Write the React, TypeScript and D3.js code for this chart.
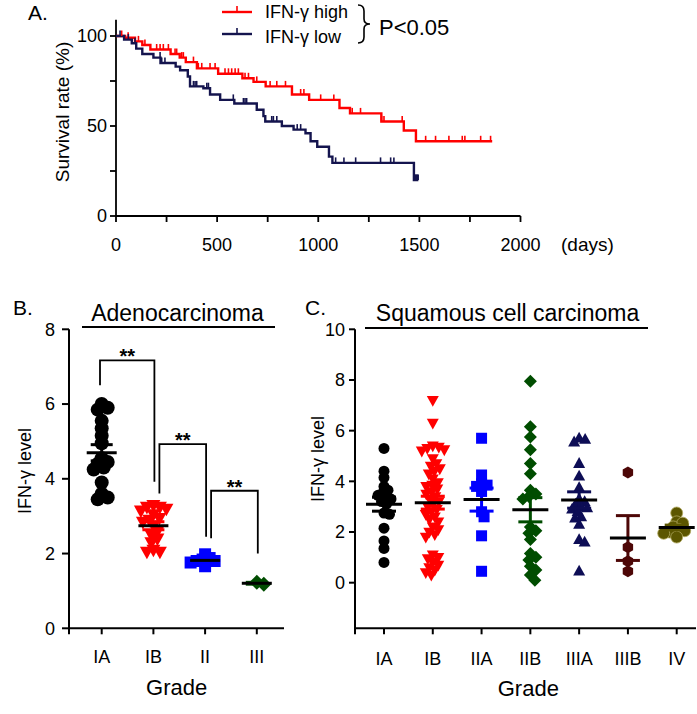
import React from 'react';
import * as d3 from 'd3';

const FONT = "'Liberation Sans', Arial, Helvetica, sans-serif";

// ---------- Panel A: survival ----------
const highDays = [0, 45, 94, 130, 170, 270, 315, 345, 400, 505, 625, 680, 740, 870, 955, 1105, 1157, 1312, 1423, 1483];
const highSurv = [100, 99, 97, 95, 92.5, 90, 88, 85.5, 82, 79, 76.5, 74.5, 72, 67.5, 64.5, 60, 57, 52.5, 47.5, 41.5];
const highEnd = 1860;
const highCensor = [28, 60, 111, 143, 201, 218, 234, 259, 292, 300, 325, 333, 383, 407, 424, 465, 490, 539, 556, 572, 589, 605, 638, 655, 696, 762, 795, 838, 913, 929, 1012, 1077, 1168, 1209, 1313, 1325, 1415, 1531, 1580, 1646, 1712, 1725, 1803, 1852];

const lowDays = [0, 40, 78, 100, 130, 185, 220, 295, 317, 355, 366, 432, 465, 515, 585, 696, 729, 738, 820, 878, 937, 962, 995, 1053, 1070, 1473];
const lowSurv = [100, 98, 96, 93, 90, 88, 85, 83, 81, 77.5, 72, 71, 67.5, 64.5, 62.5, 59, 55.5, 52.5, 50, 48, 46, 41.5, 38.5, 33, 29.5, 20];
const lowEnd = 1495;
const lowCensor = [20, 61, 94, 218, 226, 242, 383, 391, 399, 449, 457, 580, 630, 638, 646, 770, 778, 795, 896, 913, 1086, 1127, 1185, 1308, 1358, 1374, 1478, 1482, 1486, 1490, 1494];

const dayTicks = [0, 500, 1000, 1500, 2000];
const dayMinorTicks = [250, 750, 1250, 1750];
const survTicks = [0, 50, 100];
const survMinorTicks = [25, 75];
const legendLabels = ['IFN-γ high', 'IFN-γ low'];

// ---------- Panel B: adenocarcinoma ----------
const adenoGrades = ['IA', 'IB', 'II', 'III'];
const adenoIA = [6.0, 5.9, 5.85, 5.55, 5.35, 5.15, 4.95, 4.55, 4.45, 4.4, 4.3, 4.25, 3.9, 3.6, 3.5, 3.45];
const adenoIB = [3.3, 3.25, 3.25, 3.2, 3.15, 3.05, 2.95, 2.9, 2.85, 2.75, 2.6, 2.5, 2.4, 2.3, 2.1, 2.05, 2.05];
const adenoII = [1.98, 1.88, 1.84, 1.8, 1.8, 1.76, 1.66];
const adenoIII = [1.23, 1.18];
const adenoTicks = [0, 2, 4, 6, 8];
const bracketTop = [7.17, 4.93, 3.68];
const bracketLeftEnd = [6.5, 3.61, 2.41];
const bracketRightEnd = [3.92, 2.45, 2.0];

// ---------- Panel C: squamous ----------
const squamGrades = ['IA', 'IB', 'IIA', 'IIB', 'IIIA', 'IIIB', 'IV'];
const squamIA = [5.3, 4.4, 4.15, 3.8, 3.65, 3.55, 3.45, 3.35, 3.3, 3.2, 3.1, 2.75, 2.7, 2.15, 1.65, 1.35, 0.8];
const squamIB = [7.2, 6.3, 5.4, 5.35, 5.3, 5.25, 5.2, 4.9, 4.7, 4.6, 4.5, 4.4, 4.3, 4.1, 3.95, 3.85, 3.8, 3.7, 3.6, 3.5, 3.4, 3.3, 3.2, 3.1, 3.0, 2.9, 2.8, 2.7, 2.6, 2.5, 2.4, 2.2, 2.1, 2.0, 1.9, 1.8, 1.1, 1.0, 0.95, 0.8, 0.7, 0.6, 0.5, 0.4, 0.3];
const squamIIA = [5.7, 4.25, 3.9, 3.85, 3.8, 3.6, 2.8, 2.6, 1.85, 0.45];
const squamIIB = [7.95, 6.15, 5.75, 5.25, 4.7, 4.3, 3.65, 3.5, 3.4, 3.3, 2.2, 2.05, 1.95, 1.7, 1.15, 1.0, 0.9, 0.65, 0.5, 0.3, 0.1];
const squamIIIA = [5.7, 5.65, 5.55, 4.7, 4.2, 3.75, 3.3, 3.2, 3.1, 3.0, 2.95, 2.9, 2.6, 2.55, 2.8, 2.3, 1.7, 1.6, 0.45];
const squamIIIB = [4.35, 1.4, 0.85, 0.45];
const squamIV = [2.75, 2.4, 2.35, 2.2, 2.1, 2.05, 2.0, 1.95, 1.8];
const squamTicks = [0, 2, 4, 6, 8, 10];

// ---------- helpers ----------
function survAt(days: number[], surv: number[], t: number) {
  let s = surv[0];
  for (let i = 0; i < days.length; i++) if (days[i] <= t) s = surv[i];
  return s;
}

function shapePath(shape: string, size: number) {
  const h = size / 2;
  switch (shape) {
    case 'circle':
      return `M${-h},0a${h},${h} 0 1,0 ${size},0a${h},${h} 0 1,0 ${-size},0Z`;
    case 'triUp': {
      const H = size * 0.9;
      return `M0,${-H * 0.6}L${h},${H * 0.4}L${-h},${H * 0.4}Z`;
    }
    case 'triDown': {
      const H = size * 0.9;
      return `M0,${H * 0.6}L${h},${-H * 0.4}L${-h},${-H * 0.4}Z`;
    }
    case 'square':
      return `M${-h},${-h}h${size}v${size}h${-size}Z`;
    case 'diamond':
      return `M0,${-h}L${h},0L0,${h}L${-h},0Z`;
    case 'hexagon': {
      const pts = d3.range(6).map((k) => {
        const a = (Math.PI / 3) * k - Math.PI / 2;
        return `${h * Math.cos(a)},${h * Math.sin(a)}`;
      });
      return `M${pts.join('L')}Z`;
    }
  }
  return '';
}

function swarm(values: number[], y: (v: number) => number, cx: number, minDist: number) {
  const placed: { x: number; y: number }[] = [];
  const sorted = [...values].sort((a, b) => b - a);
  for (const v of sorted) {
    const py = y(v);
    for (let k = 0; k < 400; k++) {
      const off = (k % 2 === 1 ? 1 : -1) * Math.ceil(k / 2) * 0.5;
      const px = cx + off;
      const hit = placed.some((p) => (p.x - px) ** 2 + (p.y - py) ** 2 < minDist * minDist);
      if (!hit) {
        placed.push({ x: px, y: py });
        break;
      }
    }
  }
  return placed;
}

type Group = { values: number[]; color: string; shape: string; size: number; stroke?: string };

function DotGroup({ g, cx, y, meanHalf, capHalf, spread }: { g: Group; cx: number; y: (v: number) => number; meanHalf: number; capHalf: number; spread: number }) {
  const pts = swarm(g.values, y, cx, g.size * spread);
  const m = d3.mean(g.values)!;
  const sem = (d3.deviation(g.values) || 0) / Math.sqrt(g.values.length);
  const d = shapePath(g.shape, g.size);
  return (
    <g>
      {pts.map((p, i) => (
        <path key={i} d={d} transform={`translate(${p.x},${p.y})`} fill={g.color} stroke={g.stroke || 'none'} strokeWidth={g.stroke ? 0.8 : 0} />
      ))}
      <g stroke={g.color} strokeWidth={3}>
        <line x1={cx} x2={cx} y1={y(m - sem)} y2={y(m + sem)} />
        <line x1={cx - capHalf} x2={cx + capHalf} y1={y(m + sem)} y2={y(m + sem)} />
        <line x1={cx - capHalf} x2={cx + capHalf} y1={y(m - sem)} y2={y(m - sem)} />
      </g>
      <line x1={cx - meanHalf} x2={cx + meanHalf} y1={y(m)} y2={y(m)} stroke="#000" strokeWidth={3} />
    </g>
  );
}

export default function App() {
  // Panel A scales
  const xA = d3.scaleLinear().domain([0, 2000]).range([116, 520.5]);
  const yA = d3.scaleLinear().domain([0, 100]).range([216, 36]);
  const lineA = d3
    .line<[number, number]>()
    .x((d) => xA(d[0]))
    .y((d) => yA(d[1]))
    .curve(d3.curveStepAfter);
  const highPts: [number, number][] = highDays.map((d, i) => [d, highSurv[i]] as [number, number]).concat([[highEnd, highSurv[highSurv.length - 1]]]);
  const lowPts: [number, number][] = lowDays.map((d, i) => [d, lowSurv[i]] as [number, number]).concat([[lowEnd, lowSurv[lowSurv.length - 1]]]);
  const RED = '#ff0000';
  const NAVY = '#14144e';

  // Panel B scales
  const yB = d3.scaleLinear().domain([0, 8]).range([628.3, 329.3]);
  const xB = d3.scalePoint<string>().domain(adenoGrades).range([101.7, 256.8]);
  const groupsB: Group[] = [
    { values: adenoIA, color: '#000000', shape: 'circle', size: 14 },
    { values: adenoIB, color: '#ff0000', shape: 'triDown', size: 14 },
    { values: adenoII, color: '#0000ff', shape: 'square', size: 12 },
    { values: adenoIII, color: '#004d00', shape: 'diamond', size: 15 },
  ];

  // Panel C scales
  const yC = d3.scaleLinear().domain([-1.8, 10]).range([628.3, 329.3]);
  const xC = d3.scalePoint<string>().domain(squamGrades).range([384, 676.7]);
  const groupsC: Group[] = [
    { values: squamIA, color: '#000000', shape: 'circle', size: 11 },
    { values: squamIB, color: '#ff0000', shape: 'triDown', size: 12 },
    { values: squamIIA, color: '#0000ff', shape: 'square', size: 11 },
    { values: squamIIB, color: '#004d00', shape: 'diamond', size: 13 },
    { values: squamIIIA, color: '#0d0d55', shape: 'triUp', size: 12 },
    { values: squamIIIB, color: '#4d0707', shape: 'hexagon', size: 12 },
    { values: squamIV, color: '#5c5600', shape: 'circle', size: 12, stroke: '#b0a860' },
  ];

  return (
    <svg width={697} height={714} style={{ position: 'absolute', left: 0, top: 0, background: '#fff' }} fontFamily={FONT}>
      <rect width={697} height={714} fill="#fff" />
      {/* ================= Panel A ================= */}
      <text x={28} y={20} fontSize={21}>A.</text>
      <g stroke="#000" strokeWidth={1.8}>
        <line x1={xA(0)} x2={xA(0)} y1={yA(109)} y2={yA(0)} />
        <line x1={xA(0)} x2={xA(2000)} y1={yA(0)} y2={yA(0)} />
        {survTicks.concat(survMinorTicks).map((t) => (
          <line key={'ys' + t} x1={xA(0) - 6} x2={xA(0)} y1={yA(t)} y2={yA(t)} />
        ))}
        {dayTicks.concat(dayMinorTicks).map((t) => (
          <line key={'xd' + t} x1={xA(t)} x2={xA(t)} y1={yA(0)} y2={yA(0) + 6} />
        ))}
      </g>
      {survTicks.map((t) => (
        <text key={'yl' + t} x={107} y={yA(t)} dy="0.35em" fontSize={18} textAnchor="end">{t}</text>
      ))}
      {dayTicks.map((t) => (
        <text key={'xl' + t} x={xA(t)} y={251} fontSize={18} textAnchor="middle">{t}</text>
      ))}
      <text x={561} y={251} fontSize={19}>(days)</text>
      <text transform="translate(69,112) rotate(-90)" fontSize={19} textAnchor="middle">Survival rate (%)</text>

      <path d={lineA(highPts) || ''} fill="none" stroke={RED} strokeWidth={2.4} />
      <path d={lineA(lowPts) || ''} fill="none" stroke={NAVY} strokeWidth={2.4} />
      <g stroke={RED} strokeWidth={1.6}>
        {highCensor.map((t, i) => {
          const s = survAt(highDays, highSurv, t);
          return <line key={i} x1={xA(t)} x2={xA(t)} y1={yA(s)} y2={yA(s) - 5.5} />;
        })}
      </g>
      <g stroke={NAVY} strokeWidth={1.6}>
        {lowCensor.map((t, i) => {
          const s = survAt(lowDays, lowSurv, t);
          return <line key={i} x1={xA(t)} x2={xA(t)} y1={yA(s)} y2={yA(s) - 5.5} />;
        })}
      </g>

      {/* legend */}
      <g strokeWidth={2.4}>
        <line x1={222} x2={252} y1={12} y2={12} stroke={RED} />
        <line x1={237} x2={237} y1={12} y2={6} stroke={RED} strokeWidth={1.6} />
        <line x1={222} x2={252} y1={34} y2={34} stroke={NAVY} />
        <line x1={237} x2={237} y1={34} y2={28} stroke={NAVY} strokeWidth={1.6} />
      </g>
      <text x={265} y={18} fontSize={18}>{legendLabels[0]}</text>
      <text x={265} y={43} fontSize={18}>{legendLabels[1]}</text>
      <path d="M358,5 Q364,5 364,11 L364,19 Q364,24 370,24 Q364,24 364,29 L364,37 Q364,43 358,43" fill="none" stroke="#000" strokeWidth={1.6} />
      <text x={379} y={35} fontSize={22}>P&lt;0.05</text>

      {/* ================= Panel B ================= */}
      <text x={13} y={315} fontSize={21}>B.</text>
      <text x={177.5} y={320.7} fontSize={23} textAnchor="middle">Adenocarcinoma</text>
      <line x1={82} x2={275} y1={327} y2={327} stroke="#000" strokeWidth={2} />
      <g stroke="#000" strokeWidth={2}>
        <line x1={69} x2={69} y1={yB(8)} y2={yB(0) + 6} />
        <line x1={69} x2={284} y1={yB(0)} y2={yB(0)} />
        {adenoTicks.map((t) => (
          <line key={t} x1={62} x2={69} y1={yB(t)} y2={yB(t)} />
        ))}
        {adenoGrades.map((g) => (
          <line key={g} x1={xB(g)!} x2={xB(g)!} y1={yB(0)} y2={yB(0) + 6} />
        ))}
      </g>
      {adenoTicks.map((t) => (
        <text key={t} x={55} y={yB(t)} dy="0.35em" fontSize={18} textAnchor="end">{t}</text>
      ))}
      {adenoGrades.map((g) => (
        <text key={g} x={xB(g)!} y={663} fontSize={18} textAnchor="middle">{g}</text>
      ))}
      <text x={176.7} y={695} fontSize={22} textAnchor="middle">Grade</text>
      <text transform="translate(31,471) rotate(-90)" fontSize={18} textAnchor="middle">IFN-γ level</text>

      {groupsB.map((g, i) => (
        <DotGroup key={i} g={g} cx={xB(adenoGrades[i])!} y={yB} meanHalf={15} capHalf={11} spread={0.48} />
      ))}

      {bracketTop.map((top, i) => {
        const xl = xB(adenoGrades[i])! + (i === 0 ? -1.7 : 6);
        const xr = xB(adenoGrades[i + 1])! + 1;
        return (
          <g key={i}>
            <path d={`M${xl},${yB(bracketLeftEnd[i])}V${yB(top)}H${xr}V${yB(bracketRightEnd[i])}`} fill="none" stroke="#000" strokeWidth={1.8} />
            <text x={(xl + xr) / 2} y={yB(top) + 3} fontSize={20} fontWeight="bold" textAnchor="middle">**</text>
          </g>
        );
      })}

      {/* ================= Panel C ================= */}
      <text x={305} y={315} fontSize={21}>C.</text>
      <text x={507.5} y={320.7} fontSize={23} textAnchor="middle">Squamous cell carcinoma</text>
      <line x1={365} x2={648} y1={328} y2={328} stroke="#000" strokeWidth={2} />
      <g stroke="#000" strokeWidth={2}>
        <line x1={355} x2={355} y1={yC(10)} y2={yC(-1.8) + 6} />
        <line x1={355} x2={696} y1={yC(-1.8)} y2={yC(-1.8)} />
        {squamTicks.map((t) => (
          <line key={t} x1={349} x2={355} y1={yC(t)} y2={yC(t)} />
        ))}
        {squamGrades.map((g) => (
          <line key={g} x1={xC(g)!} x2={xC(g)!} y1={yC(-1.8)} y2={yC(-1.8) + 6} />
        ))}
      </g>
      {squamTicks.map((t) => (
        <text key={t} x={345} y={yC(t)} dy="0.35em" fontSize={18} textAnchor="end">{t}</text>
      ))}
      {squamGrades.map((g) => (
        <text key={g} x={xC(g)!} y={665} fontSize={18} textAnchor="middle">{g}</text>
      ))}
      <text x={528.3} y={696} fontSize={22} textAnchor="middle">Grade</text>
      <text transform="translate(324,459) rotate(-90)" fontSize={18} textAnchor="middle">IFN-γ level</text>

      {groupsC.map((g, i) => (
        <DotGroup key={i} g={g} cx={xC(squamGrades[i])!} y={yC} meanHalf={18} capHalf={12} spread={0.5} />
      ))}
    </svg>
  );
}
